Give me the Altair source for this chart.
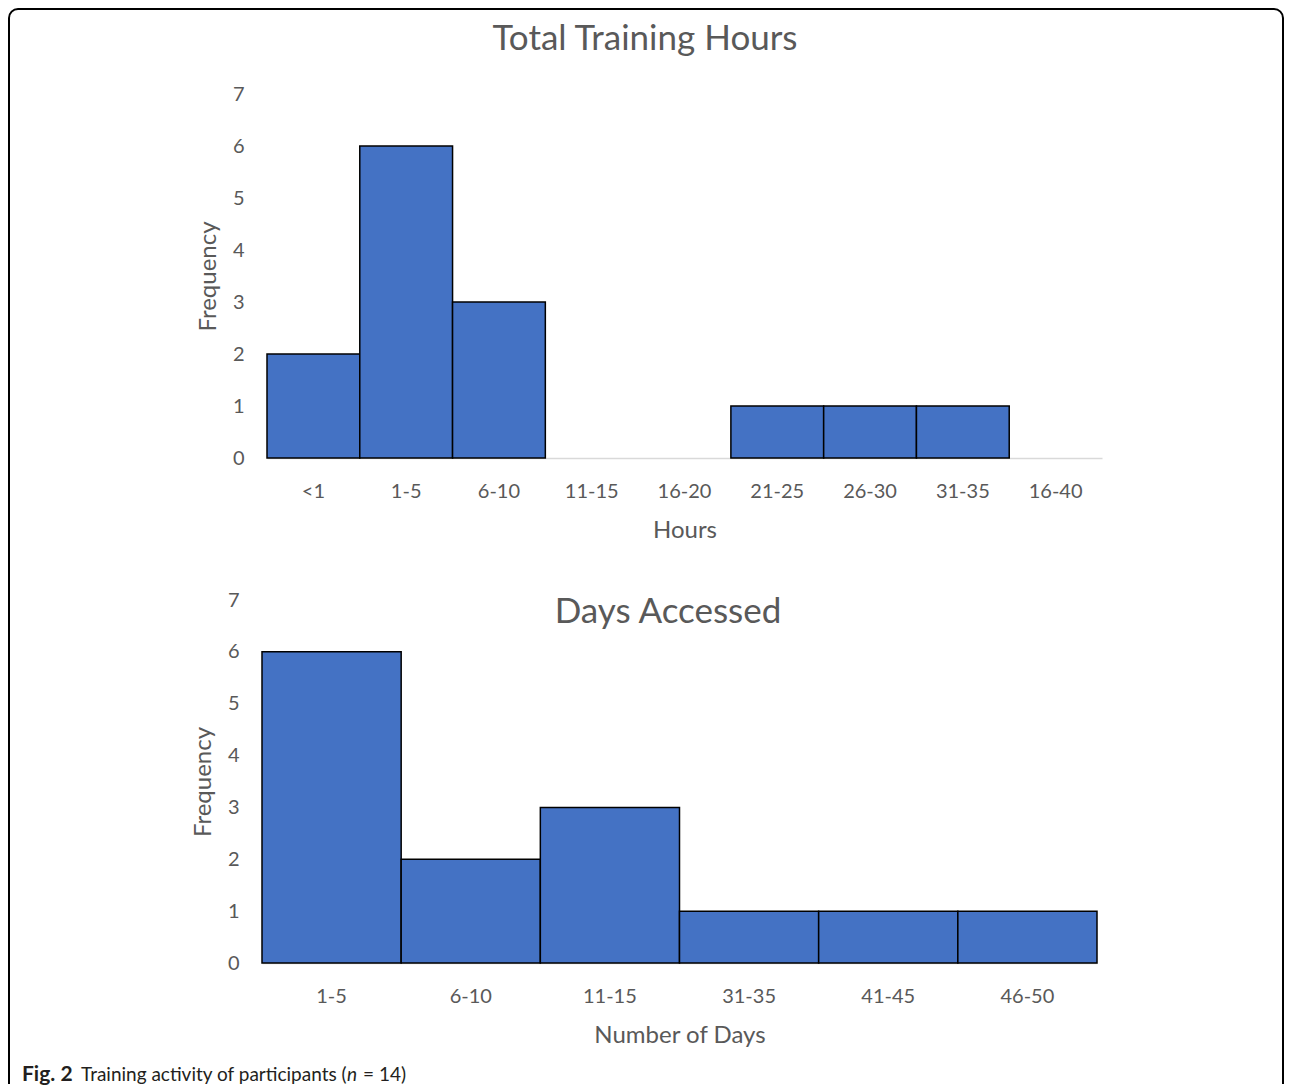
import altair as alt
import pandas as pd

# ---- data ----
hours_bins = ["<1", "1-5", "6-10", "11-15", "16-20", "21-25", "26-30", "31-35", "16-40"]
hours_freq = [2, 6, 3, 0, 0, 1, 1, 1, 0]
days_bins = ["1-5", "6-10", "11-15", "31-35", "41-45", "46-50"]
days_freq = [6, 2, 3, 1, 1, 1]
y_ticks = [0, 1, 2, 3, 4, 5, 6, 7]

FONT = "Lato"
GRAY = "#595959"
BLUE = "#4472C4"
CAP = "#231f20"

W, H = 1276, 1076  # whole figure (frame) size

hours_df = pd.DataFrame({"hbin": hours_bins, "hfreq": hours_freq})
days_df = pd.DataFrame({"dbin": days_bins, "dfreq": days_freq})
dummy = pd.DataFrame({"k": [0]})


def hist(df, xf, yf, order, xtitle, xr, yr):
    return (
        alt.Chart(df)
        .transform_filter(f"datum.{yf} > 0")
        .mark_bar(fill=BLUE, stroke="black", strokeWidth=1.5)
        .encode(
            x=alt.X(
                f"{xf}:N",
                sort=order,
                scale=alt.Scale(domain=order, range=xr, paddingInner=0, paddingOuter=0),
                axis=alt.Axis(
                    orient="bottom", offset=yr[0] - H,
                    title=xtitle, labelAngle=0, ticks=False,
                    domainColor="#d9d9d9", domainWidth=1.5,
                    labelFont=FONT, labelFontSize=20, labelColor=GRAY, labelPadding=23,
                    titleFont=FONT, titleFontSize=24, titleColor=GRAY,
                    titleFontWeight="normal", titlePadding=17,
                ),
            ),
            y=alt.Y(
                f"{yf}:Q",
                scale=alt.Scale(domain=[0, 7], range=yr, nice=False, zero=True),
                axis=alt.Axis(
                    orient="left", offset=-xr[0],
                    title="Frequency", values=y_ticks, grid=False, domain=False, ticks=False,
                    labelFont=FONT, labelFontSize=20, labelColor=GRAY, labelPadding=23,
                    titleFont=FONT, titleFontSize=24, titleColor=GRAY,
                    titleFontWeight="normal", titleX=-59, titleBaseline="middle",
                ),
            ),
        )
    )


top = hist(hours_df, "hbin", "hfreq", hours_bins, "Hours", [259, 1094], [450, 86])
bottom = hist(days_df, "dbin", "dfreq", days_bins, "Number of Days", [254, 1089], [955, 592])


def txt(s, x, y, size, color, align="left", weight="normal", style="normal"):
    return (
        alt.Chart(dummy)
        .mark_text(text=s, align=align, baseline="alphabetic", font=FONT,
                   fontSize=size, fontWeight=weight, fontStyle=style, color=color)
        .encode(x=alt.value(x), y=alt.value(y))
    )


title_top = txt("Total Training Hours", 637, 42, 35, GRAY, align="center")
title_bottom = txt("Days Accessed", 660, 615, 35, GRAY, align="center")

cap_y = 1073
caption = [
    txt("Fig. 2", 14, cap_y, 21, CAP, weight="bold"),
    txt("Training activity of participants (", 73, cap_y, 19, CAP),
    txt("n", 339, cap_y, 19, CAP, style="italic"),
    txt("= 14)", 355, cap_y, 19, CAP),
]

frame = (
    alt.Chart(dummy)
    .mark_rect(fillOpacity=0, stroke="black", strokeWidth=2, cornerRadius=9, clip=True)
    .encode(x=alt.value(1), x2=alt.value(W - 1), y=alt.value(1), y2=alt.value(H + 30))
)

chart = (
    alt.layer(frame, top, bottom, title_top, title_bottom, *caption)
    .resolve_scale(x="independent", y="independent")
    .resolve_axis(x="independent", y="independent")
    .properties(width=W, height=H, padding=0, background="white")
    .configure_view(stroke="transparent")
)

chart.save("out.html", embed_options={"renderer": "svg", "actions": False})
